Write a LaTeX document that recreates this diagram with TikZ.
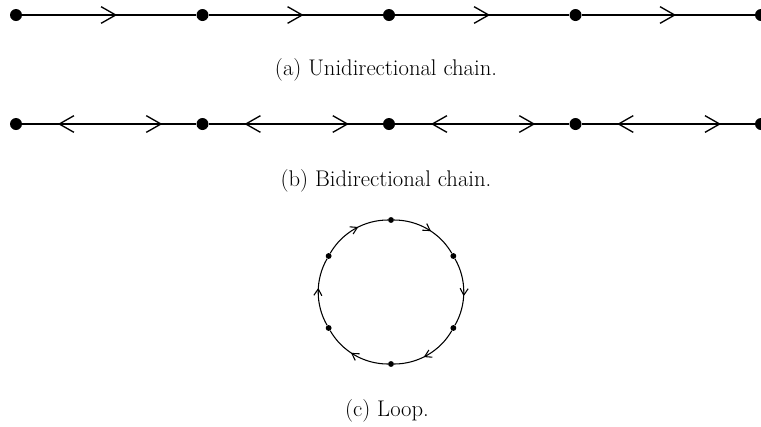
\documentclass[tikz,border=0pt]{standalone}
\usetikzlibrary{arrows.meta, decorations.markings}
\tikzset{
   dot/.style={circle, fill=black, inner sep=0pt, minimum size=9pt},
   loopdot/.style={circle, fill=black, inner sep=0pt, minimum size=4.4pt},
   caption/.style={font=\fontsize{17}{20}\selectfont},
   chainline/.style={line width=1pt},
   uniarrow/.style={chainline, postaction={decorate}, decoration={markings,
      mark=at position 0.545 with {\arrow{Straight Barb[length=11pt,width=12.5pt]}}}},
   biarrow/.style={chainline, postaction={decorate}, decoration={markings,
      mark=at position 0.205 with {\arrowreversed{Straight Barb[length=11pt,width=12.5pt]}},
      mark=at position 0.805 with {\arrow{Straight Barb[length=11pt,width=12.5pt]}}}},
   looparrow/.style={line width=0.8pt, postaction={decorate}, decoration={markings,
      mark=at position 0.56 with {\arrow{Straight Barb[length=5pt,width=6pt]}}}}
}
\begin{document}
\begin{tikzpicture}[x=0.75pt, y=0.75pt]
   \useasboundingbox (0,0) rectangle (761,-426);
   % (a) Unidirectional chain
   \foreach \x [count=\i] in {16,202.5,389,575.5,761}
      \node[dot] (u\i) at (\x,-15) {};
   \foreach \i/\j in {1/2,2/3,3/4,4/5}
      \draw[uniarrow] (u\i) -- (u\j);
   \node[caption] (capa) at (386,-70) {(a) Unidirectional chain.};
   % (b) Bidirectional chain
   \foreach \x [count=\i] in {16,202.5,389,575.5,761}
      \node[dot] (b\i) at (\x,-124) {};
   \foreach \i/\j in {1/2,2/3,3/4,4/5}
      \draw[biarrow] (b\i) -- (b\j);
   \node[caption] (capb) at (386,-181) {(b) Bidirectional chain.};
   % (c) Loop, traversed clockwise
   \coordinate (lc) at (391,-292);
   \foreach \a [count=\i] in {90,30,-30,-90,-150,150}
      \node[loopdot] (c\i) at ([shift={(\a:72)}]lc) {};
   \foreach \i/\j in {1/2,2/3,3/4,4/5,5/6,6/1}
      \draw[looparrow] (c\i) to[bend left=30, looseness=0.91] (c\j);
   \node[caption] (capc) at (387,-411) {(c) Loop.};
\end{tikzpicture}
\end{document}
